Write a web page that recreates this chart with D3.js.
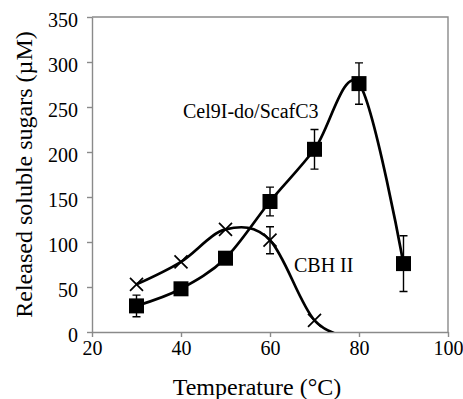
<!DOCTYPE html>
<html>
<head>
<meta charset="utf-8">
<script src="https://cdn.jsdelivr.net/npm/d3@7"></script>
<style>
  html, body { margin: 0; padding: 0; background: #fff; }
  svg { display: block; }
</style>
</head>
<body>
<svg id="chart" width="463" height="399"></svg>
<script>
// Temperature (°C) at which each sample was measured
const temps = [30, 40, 50, 60, 70, 80, 90];
// Cel9I-do/ScafC3 released soluble sugars (µM) and standard deviations
const scafValues = [29, 48, 82, 145, 203, 276, 76];
const scafErrors = [12, 5, 5, 16, 22, 23, 31];
// CBH II released soluble sugars (µM); the last reading falls below the axis
const cbhTemps = [30, 40, 50, 60, 70, 80];
const cbhValues = [53, 78, 114, 102, 13, -8];
const cbhErrors = [0, 0, 0, 15, 0, 0];

const xTicks = [20, 40, 60, 80, 100];
const yTicks = [0, 50, 100, 150, 200, 250, 300, 350];

const serif = "'Liberation Serif', 'Times New Roman', Times, 'DejaVu Serif', serif";

const svg = d3.select("#chart").style("font-family", serif);
const plotLeft = 92, plotRight = 448, plotTop = 17, plotBottom = 332;
const axisColor = "#8a8a8a";

const x = d3.scaleLinear().domain([20, 100]).range([plotLeft, plotRight]);
const y = d3.scaleLinear().domain([0, 350]).range([plotBottom, plotTop]);

// plot frame (top and right edges)
svg.append("path")
  .attr("d", `M${plotLeft},${plotTop}H${plotRight}V${plotBottom}`)
  .attr("fill", "none").attr("stroke", axisColor).attr("stroke-width", 1.4);

// axes
const xAxis = d3.axisBottom(x).tickValues(xTicks).tickSize(5).tickSizeOuter(0).tickPadding(6);
const gx = svg.append("g").attr("transform", `translate(0,${plotBottom})`).call(xAxis)
  .attr("font-family", serif).attr("font-size", 20);
gx.select(".domain").attr("stroke", axisColor).attr("stroke-width", 1.4);
gx.selectAll(".tick line").attr("stroke", axisColor).attr("stroke-width", 1.4);
gx.selectAll(".tick text").attr("dy", "0.62em").attr("fill", "#000");

const yAxis = d3.axisLeft(y).tickValues(yTicks).tickSize(5).tickSizeOuter(0).tickPadding(9);
const gy = svg.append("g").attr("transform", `translate(${plotLeft},0)`).call(yAxis)
  .attr("font-family", serif).attr("font-size", 20);
gy.select(".domain").attr("stroke", axisColor).attr("stroke-width", 1.4);
gy.selectAll(".tick line").attr("stroke", axisColor).attr("stroke-width", 1.4);
gy.selectAll(".tick text").attr("dy", "0.45em").attr("fill", "#000");

// axis titles
svg.append("text")
  .attr("x", 257).attr("y", 395)
  .attr("text-anchor", "middle").attr("font-size", 24).attr("font-family", serif)
  .text("Temperature (°C)");
svg.append("text")
  .attr("transform", `translate(32,${(plotTop + plotBottom) / 2}) rotate(-90)`)
  .attr("text-anchor", "middle").attr("font-size", 24).attr("font-family", serif)
  .text("Released soluble sugars (µM)");

// clip the smoothed lines to the plot area
svg.append("clipPath").attr("id", "plot-clip")
  .append("rect").attr("x", plotLeft).attr("y", plotTop)
  .attr("width", plotRight - plotLeft).attr("height", plotBottom - plotTop);

const line = d3.line().curve(d3.curveCardinal.tension(0));
const plot = svg.append("g");

const scafPts = temps.map((t, i) => [x(t), y(scafValues[i])]);
const cbhPts = cbhTemps.map((t, i) => [x(t), y(cbhValues[i])]);

plot.append("path").attr("d", line(cbhPts)).attr("clip-path", "url(#plot-clip)")
  .attr("fill", "none").attr("stroke", "#000").attr("stroke-width", 2.7);
plot.append("path").attr("d", line(scafPts)).attr("clip-path", "url(#plot-clip)")
  .attr("fill", "none").attr("stroke", "#000").attr("stroke-width", 2.7);

// error bars
function errorBars(ts, vals, errs) {
  ts.forEach((t, i) => {
    if (!errs[i] || vals[i] < 0) return;
    const cx = x(t), y0 = y(vals[i] + errs[i]), y1 = y(vals[i] - errs[i]);
    plot.append("path")
      .attr("d", `M${cx},${y0}V${y1}M${cx - 4},${y0}H${cx + 4}M${cx - 4},${y1}H${cx + 4}`)
      .attr("fill", "none").attr("stroke", "#000").attr("stroke-width", 1.4);
  });
}
errorBars(temps, scafValues, scafErrors);
errorBars(cbhTemps, cbhValues, cbhErrors);

// markers (only for readings inside the axis range)
const inRange = v => v >= 0 && v <= 350;
plot.selectAll("rect.sq").data(temps.map((t, i) => [t, scafValues[i]]).filter(d => inRange(d[1])))
  .join("rect").attr("class", "sq")
  .attr("x", d => x(d[0]) - 7.5).attr("y", d => y(d[1]) - 7.5)
  .attr("width", 15).attr("height", 15).attr("fill", "#000");

plot.selectAll("path.cross").data(cbhTemps.map((t, i) => [t, cbhValues[i]]).filter(d => inRange(d[1])))
  .join("path").attr("class", "cross")
  .attr("d", d => {
    const cx = x(d[0]), cy = y(d[1]), r = 6.5;
    return `M${cx - r},${cy - r}L${cx + r},${cy + r}M${cx - r},${cy + r}L${cx + r},${cy - r}`;
  })
  .attr("fill", "none").attr("stroke", "#000").attr("stroke-width", 1.7);

// series labels
svg.append("text").attr("x", 183).attr("y", 118).attr("font-size", 20).attr("font-family", serif)
  .text("Cel9I-do/ScafC3");
svg.append("text").attr("x", 294).attr("y", 272).attr("font-size", 20).attr("font-family", serif)
  .text("CBH II");
</script>
</body>
</html>
